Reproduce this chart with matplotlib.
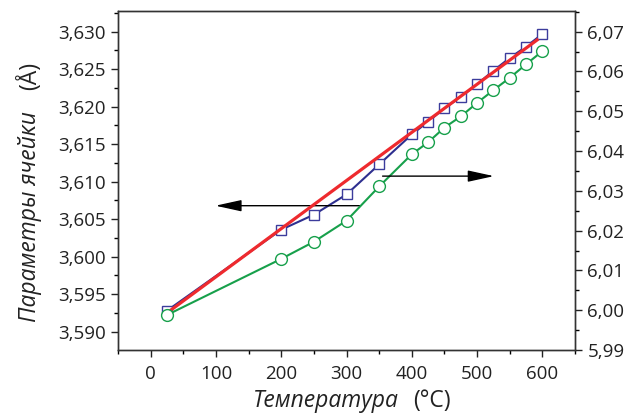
import matplotlib.pyplot as plt
from matplotlib.ticker import MultipleLocator, FuncFormatter

plt.rcParams['font.family'] = ['Open Sans', 'DejaVu Sans']

# cell parameter a (left axis, blue squares)
temp = [25, 200, 250, 300, 350, 400, 425, 450, 475, 500, 525, 550, 575, 600]
a_par = [3.5928, 3.6036, 3.6056, 3.6083, 3.6123, 3.6163, 3.6180, 3.6198,
         3.6213, 3.6230, 3.6248, 3.6265, 3.6280, 3.6297]
# cell parameter c (right axis, green circles)
c_par = [5.9988, 6.0129, 6.0172, 6.0225, 6.0311, 6.0392, 6.0422, 6.0459,
         6.0487, 6.0521, 6.0553, 6.0584, 6.0618, 6.0651]
# linear fit (red)
fit_x = [25, 592]
fit_y = [3.5925, 3.6289]

blue = '#2e2f8f'
green = '#17a04b'
red = '#ee2a2e'

fig = plt.figure(figsize=(6.37, 4.17), dpi=100)
ax = fig.add_axes([118/637, 67/417, 457/637, 339/417])
ax2 = ax.twinx()

ax.plot(temp, a_par, color=blue, lw=1.5, marker='s', markersize=7.5,
        markerfacecolor='white', markeredgecolor='#3c3c9c', markeredgewidth=1.0, zorder=3)
ax.plot(fit_x, fit_y, color=red, lw=2.3, zorder=4)
ax2.plot(temp, c_par, color=green, lw=1.5, marker='o', markersize=8.5,
         markerfacecolor='white', markeredgecolor=green, markeredgewidth=1.0, zorder=3)

# arrows pointing to the axes
ax.annotate('', xy=(95, 3.6068), xytext=(325, 3.6068),
            arrowprops=dict(arrowstyle='-|>,head_length=1.6,head_width=0.35', color='black', lw=1.0))
ax2.annotate('', xy=(530, 6.0337), xytext=(351, 6.0337),
             arrowprops=dict(arrowstyle='-|>,head_length=1.6,head_width=0.35', color='black', lw=1.0))

ax.set_xlim(-50, 650)
ax.set_ylim(3.58756, 3.63276)
ax2.set_ylim(5.99, 6.0752)

comma = lambda fmt: FuncFormatter(lambda v, p: (fmt % v).replace('.', ','))
ax.xaxis.set_major_locator(MultipleLocator(100))
ax.xaxis.set_minor_locator(MultipleLocator(50))
ax.yaxis.set_major_locator(MultipleLocator(0.005))
ax.yaxis.set_minor_locator(MultipleLocator(0.0025))
ax.yaxis.set_major_formatter(comma('%.3f'))
ax2.yaxis.set_major_locator(MultipleLocator(0.01))
ax2.yaxis.set_minor_locator(MultipleLocator(0.005))
ax2.yaxis.set_major_formatter(comma('%.2f'))

for a in (ax, ax2):
    a.tick_params(which='major', direction='out', length=5, width=1, labelsize=13.5,
                  colors='#222222', pad=4)
    a.tick_params(which='minor', direction='out', length=3, width=1)
    for s in a.spines.values():
        s.set_linewidth(1.0)
        s.set_color('#333333')
ax.tick_params(axis='x', pad=6)

# axis labels: italic words + upright units
fig.text(399/637, 1 - 401/417, 'Температура', style='italic', fontsize=16.5,
         ha='right', va='center', color='#222222')
fig.text(413/637, 1 - 401/417, '(°C)', fontsize=16.5, ha='left', va='center', color='#222222')
fig.text(30/637, 1 - 322/417, 'Параметры ячейки', style='italic', fontsize=16.5,
         rotation=90, ha='center', va='bottom', color='#222222')
fig.text(30/637, 1 - 90/417, '(Å)', fontsize=16.5,
         rotation=90, ha='center', va='bottom', color='#222222')

fig.savefig('out.png', dpi=100)
